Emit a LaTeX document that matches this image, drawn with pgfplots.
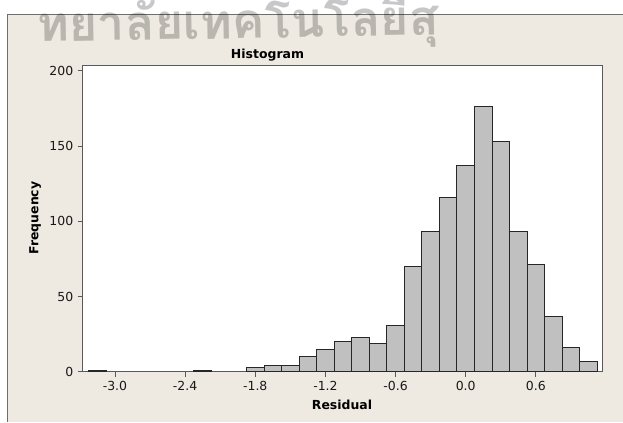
\documentclass[border=0pt]{standalone}
\usepackage{fontspec}
\setmainfont{DejaVu Sans}
\newfontfamily\thaifont[Script=Thai]{Loma}
\usepackage{pgfplots}
\pgfplotsset{compat=1.18}
\definecolor{bgbeige}{HTML}{EEEAE1}
\definecolor{barfill}{HTML}{C0C0C0}
\definecolor{framegray}{HTML}{6E6E6E}
\begin{document}
\begin{tikzpicture}[x=1bp,y=1bp]
\useasboundingbox (0,0) rectangle (623,422);
\clip (0,0) rectangle (623,422);
\fill[white] (0,0) rectangle (623,422);
\fill[bgbeige] (7,0) rectangle (623,408);
\draw[framegray, line width=1.2bp] (7.6,0) -- (7.6,407.6) -- (623,407.6);
\begin{axis}[
  at={(82.7bp,50.3bp)}, anchor=south west,
  scale only axis, width=520bp, height=306bp,
  xmin=-3.276, xmax=1.172, ymin=0, ymax=203.4,
  axis background/.style={fill=white},
  axis line style={black!65, line width=1bp},
  tick style={black!65, line width=0.9bp},
  tick align=outside, major tick length=5bp,
  xtick pos=bottom, ytick pos=left,
  xtick={-3.0,-2.4,-1.8,-1.2,-0.6,0.0,0.6},
  xticklabels={-3.0,-2.4,-1.8,-1.2,-0.6,0.0,0.6},
  ytick={0,50,100,150,200},
  yticklabels={0,50,100,150,200},
  ticklabel style={font=\fontsize{12.5}{14}\selectfont, text=black!90},
  xticklabel style={yshift=-1bp},
  yticklabel style={xshift=-1bp},
]
\addplot[ybar, bar width=0.15, bar shift=0, fill=barfill, draw=black!85, line width=1bp]
coordinates {
(-3.15,1) (-2.25,1) (-1.80,3) (-1.65,4) (-1.50,4) (-1.35,10) (-1.20,15)
(-1.05,20) (-0.90,23) (-0.75,19) (-0.60,31) (-0.45,70) (-0.30,93)
(-0.15,116) (0.00,137) (0.15,176) (0.30,153) (0.45,93) (0.60,71)
(0.75,37) (0.90,16) (1.05,7)
};
\end{axis}
\node[font=\thaifont\bfseries\fontsize{49}{49}\selectfont, text=black, text opacity=0.22, anchor=base west, inner sep=0pt, rotate=1] at (37,380) {ทยาลัยเทคโนโลยีสุ};
\node[font=\bfseries\fontsize{12.5}{15}\selectfont, anchor=base] at (267.5,363.7) {Histogram};
\node[font=\bfseries\fontsize{12.5}{15}\selectfont, anchor=base] at (342,12.7) {Residual};
\node[font=\bfseries\fontsize{12.5}{15}\selectfont, anchor=base, rotate=90] at (38.3,204) {Frequency};
\end{tikzpicture}
\end{document}
